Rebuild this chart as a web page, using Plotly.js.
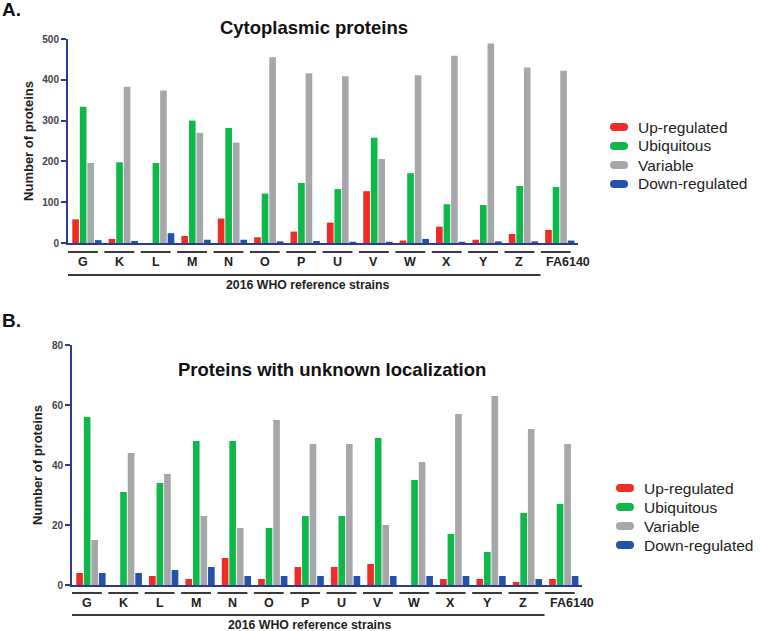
<!DOCTYPE html>
<html>
<head>
<meta charset="utf-8">
<script src="https://cdn.plot.ly/plotly-3.0.1.min.js"></script>
<style>html,body{margin:0;padding:0;background:#fff;}#chart{width:760px;height:631px;}</style>
</head>
<body>
<div id="chart"></div>
<script>
// Categories
const strains = ['G','K','L','M','N','O','P','U','V','W','X','Y','Z','FA6140'];
const seriesNames = ['Up-regulated','Ubiquitous','Variable','Down-regulated'];

// Panel A: Cytoplasmic proteins
const cytoUp   = [58, 10, 0, 17, 60, 14, 28, 50, 127, 6, 40, 8, 22, 32];
const cytoUbi  = [334, 198, 196, 300, 282, 121, 147, 132, 258, 171, 95, 93, 140, 137];
const cytoVar  = [196, 383, 374, 270, 246, 455, 416, 409, 206, 411, 459, 489, 430, 422];
const cytoDown = [7, 5, 24, 8, 8, 4, 5, 3, 3, 10, 3, 4, 4, 6];

// Panel B: Proteins with unknown localization
const unkUp   = [4, 0, 3, 2, 9, 2, 6, 6, 7, 0, 2, 2, 1, 2];
const unkUbi  = [56, 31, 34, 48, 48, 19, 23, 23, 49, 35, 17, 11, 24, 27];
const unkVar  = [15, 44, 37, 23, 19, 55, 47, 47, 20, 41, 57, 63, 52, 47];
const unkDown = [4, 4, 5, 6, 3, 3, 3, 3, 3, 3, 3, 3, 2, 3];

// Axis ticks
const cytoTicks = [0, 100, 200, 300, 400, 500];
const unkTicks = [0, 20, 40, 60, 80];

const colors = ['#ee2b25', '#0fb84a', '#a6a7aa', '#2352a8'];
const axisBlue = '#2e3a8c';
const FONT = 'Liberation Sans, Arial, sans-serif';

const cytoData = [cytoUp, cytoUbi, cytoVar, cytoDown];
const unkData = [unkUp, unkUbi, unkVar, unkDown];

const traces = [];
cytoData.forEach((vals, i) => {
  traces.push({type:'bar', x: strains, y: vals, name: seriesNames[i], xaxis:'x', yaxis:'y',
    marker:{color: colors[i], line:{width:0}}, showlegend:false, hoverinfo:'x+y+name'});
});
unkData.forEach((vals, i) => {
  traces.push({type:'bar', x: strains, y: vals, name: seriesNames[i], xaxis:'x2', yaxis:'y2',
    marker:{color: colors[i], line:{width:0}}, showlegend:false, hoverinfo:'x+y+name'});
});

const W = 760, H = 631;
const px = v => v / W;
const py = v => 1 - v / H;

function xaxisCfg(domain, yanchor) {
  return {
    type:'category', domain: domain, anchor: yanchor, range:[-0.52, 13.5],
    showline:true, linecolor: axisBlue, linewidth:2, ticks:'', showgrid:false, zeroline:false,
    showticklabels:false, fixedrange:true
  };
}
function yaxisCfg(domain, xanchor, range, ticks, title) {
  return {
    domain: domain, anchor: xanchor, range: range, tickmode:'array', tickvals: ticks,
    showline:true, linecolor: axisBlue, linewidth:2, ticks:'outside', ticklen:5, tickwidth:2,
    tickcolor: axisBlue, showgrid:false, zeroline:false,
    tickfont:{family: FONT, size:10, color:'#444', weight:'bold'},
    title:{text: title, font:{family: FONT, size:13, color:'#222', weight:'bold'}, standoff: 6},
    fixedrange:true
  };
}

const shapes = [];
const annotations = [];
function bracketLines(xref, ySeg, yLong, yLab) {
  strains.forEach((s, i) => {
    shapes.push({type:'line', xref: xref, yref:'paper', x0: i - 0.52, x1: i + 0.30,
      y0: py(ySeg), y1: py(ySeg), line:{color:'#3a3a3a', width:2}});
    annotations.push({text:'<b>' + s + '</b>', xref: xref, yref:'paper', x: i, y: py(yLab),
      xshift: (s === 'FA6140') ? 8 : -4, xanchor:'center', yanchor:'middle', showarrow:false,
      font:{family: FONT, size:12.5, color:'#222'}});
  });
  shapes.push({type:'line', xref: xref, yref:'paper', x0: -0.52, x1: 12.47,
    y0: py(yLong), y1: py(yLong), line:{color:'#3a3a3a', width:2}});
}
bracketLines('x', 252, 275, 262);
bracketLines('x2', 593, 615, 603);

// Legends (pill markers + labels)
function legendBlock(xMark, xText, ys) {
  ys.forEach((yy, i) => {
    shapes.push({type:'path', xref:'paper', yref:'paper', xsizemode:'pixel', ysizemode:'pixel',
      xanchor: px(xMark), yanchor: py(yy),
      path:'M-5,-4 H5 Q9,-4 9,0 Q9,4 5,4 H-5 Q-9,4 -9,0 Q-9,-4 -5,-4 Z',
      fillcolor: colors[i], line:{width:0}});
    annotations.push({text: seriesNames[i], xref:'paper', yref:'paper', x: px(xText), y: py(yy),
      xanchor:'left', yanchor:'middle', showarrow:false, font:{family: FONT, size:15.5, color:'#222'}});
  });
}
legendBlock(619, 636, [127, 146, 165, 184]);
legendBlock(625, 642, [488, 507, 526, 545]);

annotations.push(
  {text:'<b>A.</b>', xref:'paper', yref:'paper', x: 0, y: py(10), xanchor:'left', yanchor:'middle',
    showarrow:false, font:{family: FONT, size:19, color:'#111'}},
  {text:'<b>B.</b>', xref:'paper', yref:'paper', x: 0, y: py(320), xanchor:'left', yanchor:'middle',
    showarrow:false, font:{family: FONT, size:19, color:'#111'}},
  {text:'<b>Proteins with unknown localization</b>', xref:'paper', yref:'paper', x: px(332), y: py(369),
    xanchor:'center', yanchor:'middle', showarrow:false, font:{family: FONT, size:18.5, color:'#111'}},
  {text:'<b>2016 WHO reference strains</b>', xref:'paper', yref:'paper', x: px(308), y: py(285),
    xanchor:'center', yanchor:'middle', showarrow:false, font:{family: FONT, size:12.3, color:'#222'}},
  {text:'<b>2016 WHO reference strains</b>', xref:'paper', yref:'paper', x: px(310), y: py(625),
    xanchor:'center', yanchor:'middle', showarrow:false, font:{family: FONT, size:12.3, color:'#222'}}
);

const layout = {
  width: W, height: H, margin:{l:0, r:0, t:0, b:0}, paper_bgcolor:'#fff', plot_bgcolor:'#fff',
  font:{family: FONT},
  title:{text:'<b>Cytoplasmic proteins</b>', x: px(314), y: py(28), xanchor:'center', yanchor:'middle',
    xref:'paper', yref:'paper', font:{family: FONT, size:18.5, color:'#111'}},
  barmode:'group', bargap:0.17, bargroupgap:0.12,
  xaxis: xaxisCfg([px(68), px(578)], 'y'),
  yaxis: yaxisCfg([py(243), py(39)], 'x', [0, 500], cytoTicks, 'Number of proteins'),
  xaxis2: xaxisCfg([px(72), px(582)], 'y2'),
  yaxis2: yaxisCfg([py(585), py(345)], 'x2', [0, 80], unkTicks, 'Number of proteins'),
  shapes: shapes,
  annotations: annotations,
  showlegend: false
};

Plotly.newPlot('chart', traces, layout, {displayModeBar:false, staticPlot:true});
</script>
</body>
</html>
